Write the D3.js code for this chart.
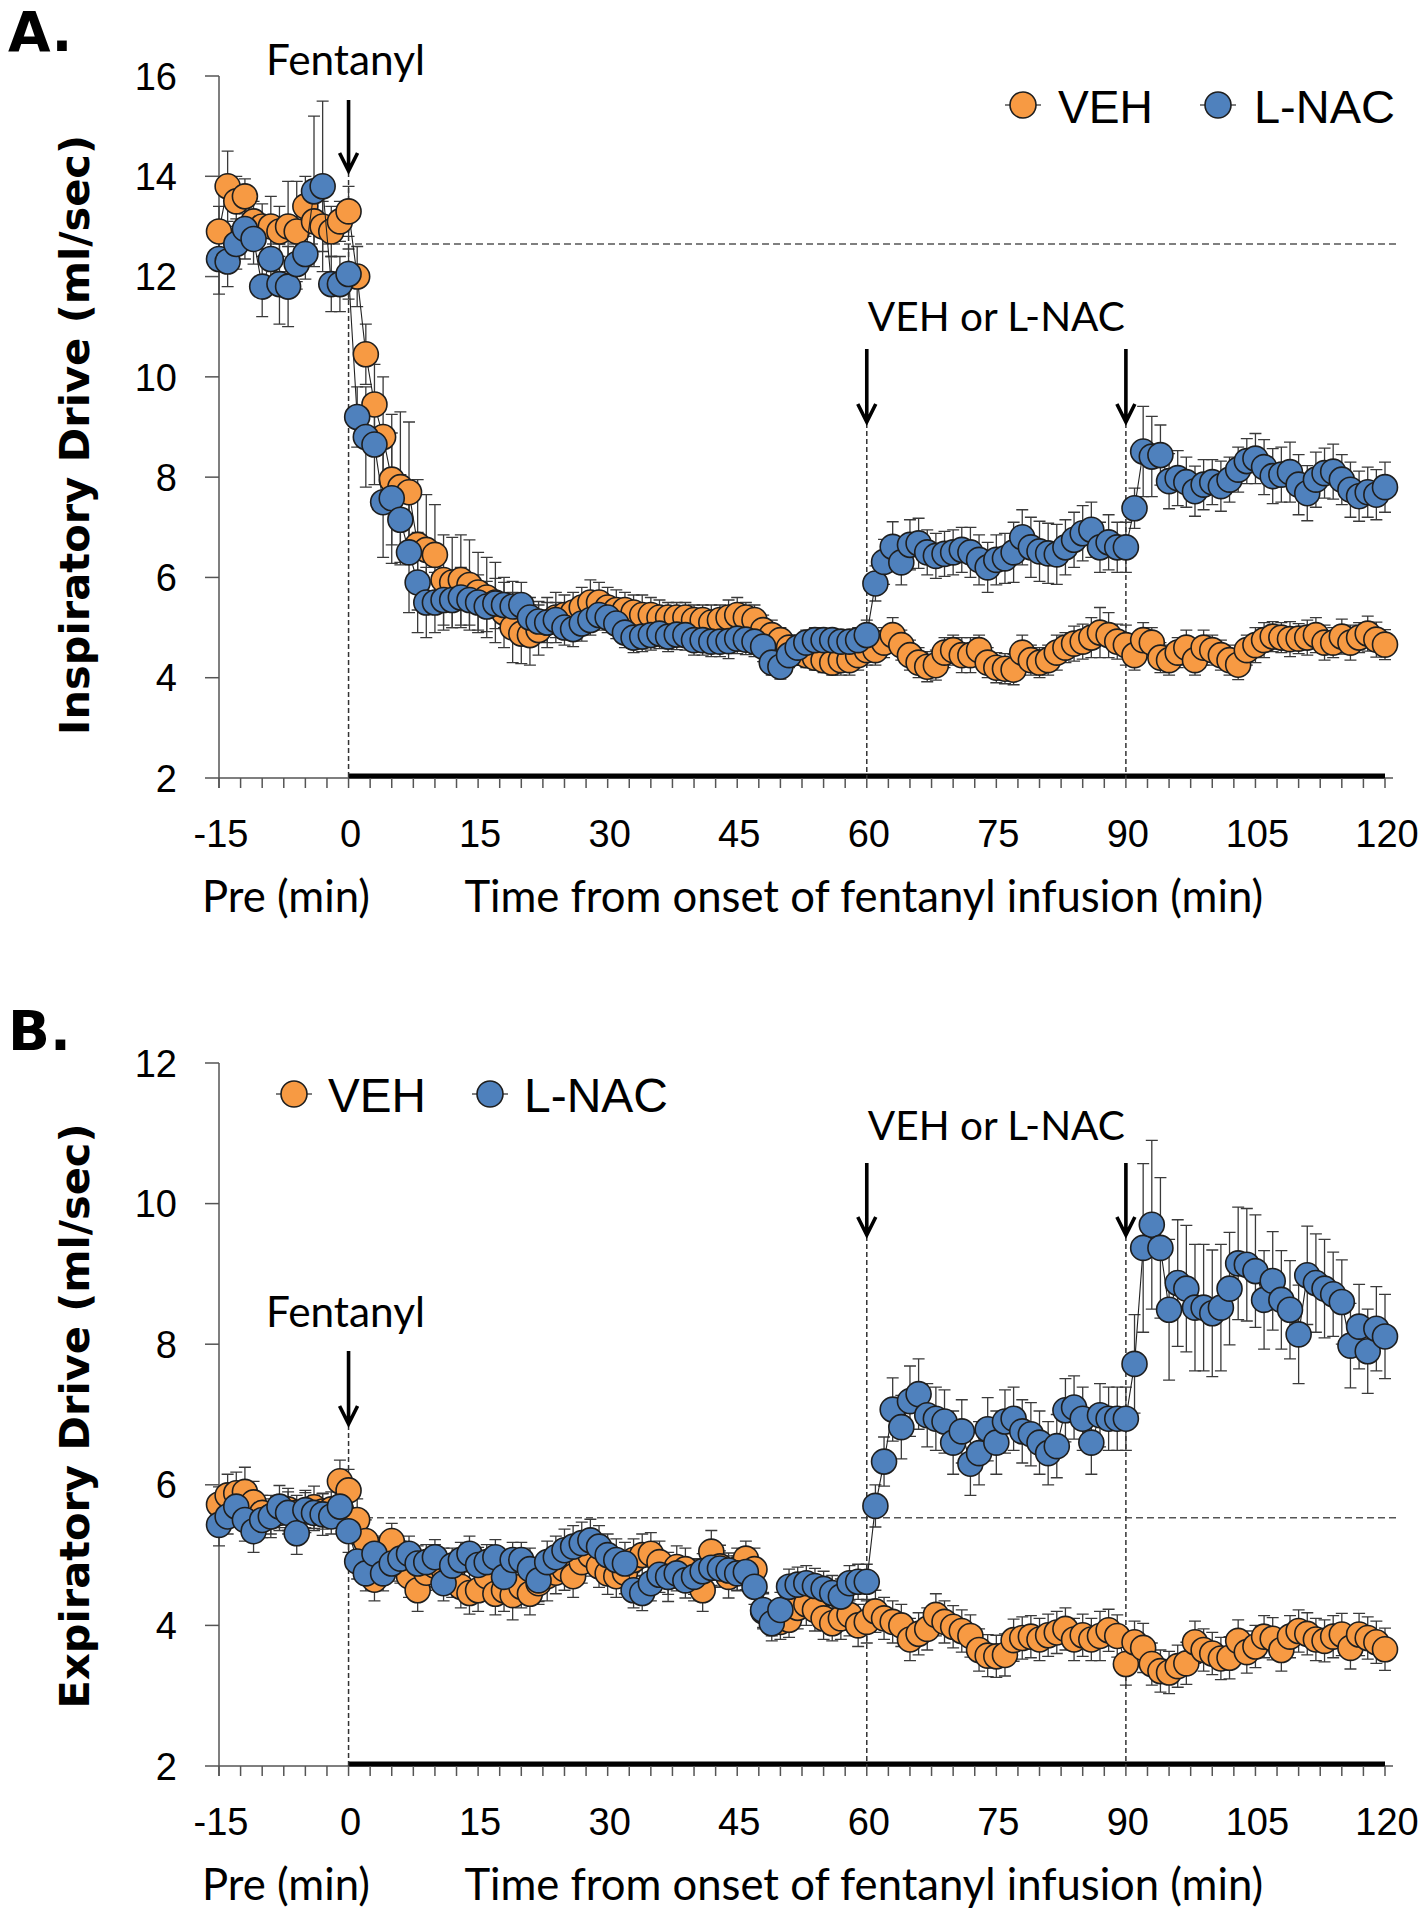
<!DOCTYPE html>
<html><head><meta charset="utf-8">
<script src="https://cdn.jsdelivr.net/npm/d3@7/dist/d3.min.js"></script>
<style>body{margin:0;background:#fff}</style>
</head><body>
<svg id="chart" width="1427" height="1920"></svg>
<script>
// ---------- DATA ----------
const minutes = d3.range(-15, 121); // -15 .. 120, 1-min bins
const xTickLabels = [-15, 0, 15, 30, 45, 60, 75, 90, 105, 120];
const insYTicks = [2, 4, 6, 8, 10, 12, 14, 16];
const expYTicks = [2, 4, 6, 8, 10, 12];
const seriesNames = ["VEH", "L-NAC"];

// Panel A: Inspiratory drive (ml/sec)
const insVeh = [
 12.9,13.8,13.5,13.6,13.1,13.0,13.0,12.9,13.0,12.9,13.4,13.1,13.0,12.9,13.1,13.3,
 12.0,10.45,9.45,8.8,7.95,7.8,7.7,6.65,6.55,6.45,5.95,5.9,5.95,5.85,5.7,5.6,5.5,5.3,5.0,4.88,
 4.85,4.95,5.1,5.2,5.25,5.3,5.4,5.5,5.5,5.4,5.35,5.35,5.3,5.25,5.25,5.2,5.2,5.2,5.2,5.15,
 5.15,5.1,5.15,5.2,5.25,5.2,5.15,4.95,4.85,4.75,4.6,4.5,4.45,4.4,4.35,4.3,4.35,4.35,4.45,4.55,
 4.55,4.7,4.85,4.65,4.45,4.3,4.22,4.25,4.5,4.55,4.45,4.45,4.55,4.3,4.2,4.18,4.16,4.5,4.35,4.3,
 4.35,4.5,4.6,4.68,4.72,4.8,4.9,4.85,4.72,4.65,4.45,4.75,4.7,4.4,4.35,4.5,4.6,4.35,4.6,4.55,
 4.45,4.35,4.26,4.55,4.65,4.75,4.82,4.8,4.77,4.78,4.8,4.85,4.7,4.7,4.82,4.7,4.8,4.88,4.76,4.66
];
const insVehSem = [
 0.5,0.7,0.5,0.35,0.4,0.45,0.6,0.5,0.9,1.0,0.6,0.6,0.5,0.5,0.4,0.5,
 0.6,0.6,0.8,1.2,1.3,1.5,1.4,1.3,1.1,1.0,0.9,0.9,0.9,0.9,0.8,0.8,0.8,0.7,0.7,0.6,
 0.6,0.5,0.5,0.5,0.4,0.4,0.4,0.45,0.4,0.4,0.4,0.35,0.35,0.4,0.35,0.35,0.3,0.3,0.3,0.3,
 0.3,0.35,0.3,0.35,0.35,0.3,0.3,0.3,0.3,0.25,0.25,0.25,0.25,0.25,0.25,0.25,0.3,0.3,0.3,0.3,
 0.3,0.3,0.35,0.3,0.3,0.3,0.3,0.3,0.3,0.3,0.35,0.35,0.3,0.3,0.3,0.3,0.3,0.35,0.3,0.3,
 0.3,0.35,0.3,0.35,0.35,0.4,0.5,0.45,0.35,0.4,0.3,0.35,0.3,0.3,0.3,0.3,0.35,0.3,0.35,0.3,
 0.3,0.3,0.3,0.3,0.35,0.35,0.3,0.3,0.35,0.3,0.35,0.35,0.35,0.3,0.35,0.35,0.3,0.35,0.35,0.3
];
const insLnac = [
 12.35,12.3,12.65,12.95,12.75,11.8,12.35,11.85,11.8,12.25,12.45,13.7,13.8,11.85,11.85,12.05,
 9.2,8.8,8.65,7.5,7.58,7.15,6.5,5.9,5.5,5.5,5.55,5.55,5.6,5.55,5.5,5.42,5.48,5.45,5.42,5.45,
 5.2,5.12,5.1,5.15,5.0,4.97,5.08,5.15,5.25,5.2,5.08,4.9,4.8,4.82,4.85,4.88,4.82,4.86,4.85,4.75,
 4.75,4.72,4.72,4.73,4.78,4.76,4.72,4.62,4.3,4.22,4.45,4.6,4.7,4.75,4.75,4.75,4.72,4.72,4.75,4.85,
 5.88,6.31,6.61,6.3,6.65,6.68,6.5,6.43,6.47,6.5,6.55,6.5,6.35,6.2,6.35,6.38,6.5,6.8,6.6,6.52,
 6.48,6.46,6.6,6.75,6.88,6.95,6.6,6.7,6.6,6.6,7.38,8.51,8.41,8.44,7.92,7.98,7.9,7.72,7.85,7.9,
 7.82,7.95,8.15,8.32,8.37,8.2,8.02,8.05,8.1,7.85,7.68,7.95,8.08,8.11,7.95,7.75,7.62,7.7,7.65,7.8
];
const insLnacSem = [
 0.7,0.5,0.5,0.6,0.5,0.6,0.6,0.8,0.8,0.5,0.5,1.5,1.7,0.55,0.55,0.5,
 0.6,1.0,0.8,1.1,1.3,0.9,1.2,1.0,0.7,0.6,0.6,0.55,0.6,0.5,0.55,0.5,0.5,0.45,0.5,0.45,
 0.4,0.4,0.4,0.35,0.35,0.35,0.35,0.3,0.3,0.3,0.3,0.3,0.3,0.3,0.3,0.3,0.3,0.3,0.3,0.3,
 0.3,0.3,0.3,0.35,0.3,0.3,0.3,0.3,0.25,0.25,0.25,0.25,0.25,0.25,0.2,0.2,0.2,0.2,0.25,0.3,
 0.35,0.45,0.5,0.45,0.5,0.5,0.45,0.45,0.45,0.45,0.45,0.5,0.5,0.5,0.5,0.5,0.6,0.55,0.6,0.6,
 0.6,0.6,0.55,0.55,0.55,0.55,0.5,0.55,0.5,0.5,0.4,0.9,0.8,0.6,0.55,0.55,0.5,0.5,0.5,0.45,
 0.5,0.45,0.45,0.45,0.5,0.55,0.55,0.55,0.6,0.6,0.55,0.55,0.5,0.55,0.5,0.55,0.5,0.5,0.5,0.5
];

// Panel B: Expiratory drive (ml/sec)
const expVeh = [
 5.72,5.85,5.88,5.9,5.75,5.6,5.55,5.6,5.65,5.6,5.62,5.68,5.62,5.65,6.05,5.92,
 5.5,5.2,4.65,4.95,5.2,4.9,4.7,4.5,4.75,4.85,4.8,4.7,4.55,4.46,4.5,4.7,4.45,4.5,4.43,4.55,
 4.45,4.6,4.7,4.75,4.8,4.7,4.9,5.0,4.84,4.74,4.7,4.75,4.93,5.0,5.02,4.9,4.69,4.83,4.8,4.65,
 4.5,5.05,4.84,4.69,4.8,4.95,4.8,4.2,4.1,4.05,4.08,4.25,4.3,4.22,4.1,4.03,4.1,4.15,4.0,4.05,
 4.2,4.1,4.05,4.0,3.8,3.88,3.95,4.15,4.05,3.98,3.92,3.85,3.65,3.57,3.56,3.58,3.79,3.82,3.84,3.8,
 3.86,3.9,3.95,3.8,3.86,3.8,3.85,3.93,3.85,3.45,3.76,3.68,3.45,3.35,3.33,3.42,3.46,3.76,3.65,3.6,
 3.53,3.54,3.78,3.62,3.7,3.84,3.81,3.65,3.84,3.92,3.88,3.8,3.78,3.84,3.87,3.68,3.87,3.82,3.76,3.66
];
const expVehSem = [
 0.25,0.3,0.3,0.35,0.3,0.25,0.3,0.25,0.3,0.25,0.3,0.3,0.25,0.25,0.3,0.3,
 0.3,0.3,0.3,0.3,0.25,0.3,0.3,0.3,0.25,0.3,0.3,0.3,0.3,0.3,0.3,0.3,0.3,0.3,0.35,0.3,
 0.3,0.3,0.35,0.3,0.3,0.3,0.3,0.3,0.3,0.3,0.3,0.3,0.3,0.3,0.3,0.3,0.35,0.3,0.3,0.3,
 0.3,0.3,0.3,0.3,0.3,0.25,0.3,0.25,0.25,0.25,0.25,0.3,0.3,0.3,0.3,0.25,0.3,0.3,0.3,0.3,
 0.3,0.3,0.3,0.3,0.3,0.3,0.3,0.3,0.3,0.3,0.3,0.3,0.3,0.3,0.3,0.3,0.3,0.3,0.3,0.3,
 0.3,0.3,0.3,0.3,0.3,0.3,0.35,0.3,0.3,0.3,0.3,0.35,0.3,0.3,0.3,0.3,0.3,0.3,0.3,0.3,
 0.3,0.3,0.3,0.3,0.3,0.3,0.3,0.3,0.3,0.3,0.3,0.3,0.3,0.3,0.3,0.3,0.3,0.3,0.3,0.3
];
const expLnac = [
 5.43,5.55,5.69,5.5,5.34,5.5,5.55,5.69,5.6,5.31,5.64,5.6,5.58,5.55,5.69,5.34,
 4.91,4.74,5.02,4.74,4.88,4.95,5.02,4.88,4.9,4.97,4.6,4.85,4.93,5.02,4.86,4.9,4.97,4.69,4.93,4.93,
 4.8,4.64,4.9,4.97,5.07,5.12,5.17,5.21,5.12,5.0,4.93,4.88,4.5,4.46,4.6,4.72,4.69,4.74,4.64,4.69,
 4.77,4.82,4.81,4.78,4.74,4.76,4.55,4.22,4.03,4.22,4.55,4.58,4.6,4.56,4.52,4.46,4.41,4.6,4.62,4.62,
 5.7,6.33,7.07,6.82,7.19,7.29,6.99,6.94,6.9,6.6,6.76,6.3,6.45,6.79,6.6,6.9,6.94,6.76,6.72,6.6,
 6.45,6.55,7.06,7.1,6.94,6.6,6.99,6.94,6.94,6.94,7.72,9.37,9.7,9.37,8.49,8.87,8.79,8.52,8.52,8.44,
 8.52,8.79,9.15,9.13,9.04,8.63,8.9,8.63,8.49,8.14,8.98,8.87,8.79,8.71,8.6,7.98,8.25,7.9,8.22,8.11
];
const expLnacSem = [
 0.3,0.25,0.25,0.3,0.3,0.25,0.25,0.3,0.3,0.3,0.25,0.25,0.3,0.25,0.25,0.3,
 0.25,0.25,0.25,0.25,0.25,0.25,0.25,0.25,0.25,0.25,0.25,0.25,0.25,0.25,0.25,0.25,0.25,0.25,0.25,0.25,
 0.3,0.3,0.3,0.3,0.3,0.3,0.3,0.3,0.3,0.3,0.3,0.3,0.25,0.25,0.25,0.25,0.25,0.25,0.25,0.25,
 0.25,0.25,0.25,0.25,0.25,0.25,0.25,0.25,0.25,0.25,0.25,0.25,0.25,0.25,0.25,0.25,0.25,0.25,0.25,0.25,
 0.3,0.35,0.45,0.45,0.5,0.5,0.45,0.45,0.45,0.45,0.45,0.45,0.45,0.45,0.45,0.45,0.45,0.45,0.45,0.45,
 0.45,0.45,0.45,0.45,0.45,0.45,0.45,0.45,0.45,0.45,0.7,1.2,1.2,1.0,1.0,0.9,0.9,0.9,0.9,0.9,
 0.9,0.8,0.8,0.8,0.8,0.7,0.7,0.7,0.7,0.7,0.7,0.7,0.7,0.6,0.6,0.6,0.6,0.6,0.6,0.6
];

// ---------- DRAWING ----------
const svg = d3.select("#chart");
svg.append("rect").attr("width", 1427).attr("height", 1920).attr("fill", "#fff");

const COL = { "VEH": "#F79A43", "L-NAC": "#4F81BD" };
const x = d3.scaleLinear().domain([-15, 120]).range([219, 1385]);

function fitText(sel, w) {
  const n = sel.node();
  const cur = n.getComputedTextLength();
  const fs = parseFloat(sel.attr("font-size"));
  if (cur > 0) sel.attr("font-size", fs * w / cur);
}

const panels = [
  { label: "A.", labelY: 51, top: 76, bottom: 778, dom: [2, 16], ticks: insYTicks,
    title: "Inspiratory Drive (ml/sec)", titleLen: 600, titleCY: 435,
    veh: insVeh, vehSem: insVehSem, lnac: insLnac, lnacSem: insLnacSem,
    baseline: 12.65, fentY: 75, fentArrow: [100, 172], drugY: 331, drugArrow: [349, 423],
    legend: { cx: [1023, 1218], tx: [1058, 1254], cy: 105, w: [95, 141] } },
  { label: "B.", labelY: 1050, top: 1063, bottom: 1766, dom: [2, 12], ticks: expYTicks,
    title: "Expiratory Drive (ml/sec)", titleLen: 585, titleCY: 1416,
    veh: expVeh, vehSem: expVehSem, lnac: expLnac, lnacSem: expLnacSem,
    baseline: 5.53, fentY: 1327, fentArrow: [1351, 1425], drugY: 1140, drugArrow: [1163, 1236],
    legend: { cx: [294, 490], tx: [328, 524], cy: 1094, w: [98, 144] } }
];

panels.forEach(p => {
  const g = svg.append("g");
  const y = d3.scaleLinear().domain(p.dom).range([p.bottom, p.top]);
  const axisY = p.bottom;

  // panel label
  g.append("text").attr("x", 8).attr("y", p.labelY).text(p.label)
    .attr("font-family", "DejaVu Sans").attr("font-weight", "bold").attr("font-size", 55).attr("fill", "#000");

  // y axis
  g.append("line").attr("x1", x(-15)).attr("x2", x(-15)).attr("y1", y(p.dom[1])).attr("y2", axisY + 10)
    .attr("stroke", "#555").attr("stroke-width", 1.5);
  p.ticks.forEach(t => {
    g.append("line").attr("x1", x(-15) - 14).attr("x2", x(-15)).attr("y1", y(t)).attr("y2", y(t))
      .attr("stroke", "#555").attr("stroke-width", 1.5);
    g.append("text").attr("x", 177).attr("y", y(t)).attr("dy", "0.36em").attr("text-anchor", "end")
      .attr("font-family", "Liberation Sans, Arial").attr("font-size", 38).attr("fill", "#000").text(t);
  });

  // x axis
  g.append("line").attr("x1", x(-15)).attr("x2", 1393).attr("y1", axisY).attr("y2", axisY)
    .attr("stroke", "#555").attr("stroke-width", 1.5);
  g.append("line").attr("x1", x(0)).attr("x2", x(120)).attr("y1", axisY - 2).attr("y2", axisY - 2)
    .attr("stroke", "#000").attr("stroke-width", 5);
  d3.range(-15, 120.01, 2.5).forEach(t => {
    g.append("line").attr("x1", x(t)).attr("x2", x(t)).attr("y1", axisY).attr("y2", axisY + 10)
      .attr("stroke", "#555").attr("stroke-width", 1.5);
  });
  xTickLabels.forEach(t => {
    g.append("text").attr("x", x(t) + 2).attr("y", axisY + 69).attr("text-anchor", "middle")
      .attr("font-family", "Liberation Sans, Arial").attr("font-size", 38).attr("fill", "#000").text(t);
  });
  const pre = g.append("text").attr("x", 286).attr("y", axisY + 134).attr("text-anchor", "middle")
    .attr("font-family", "Lato").attr("font-size", 38).attr("fill", "#000").text("Pre (min)");
  fitText(pre, 168);
  const tl = g.append("text").attr("x", x(60) - 3).attr("y", axisY + 134).attr("text-anchor", "middle")
    .attr("font-family", "Lato").attr("font-size", 38).attr("fill", "#000")
    .text("Time from onset of fentanyl infusion (min)");
  fitText(tl, 799);

  // y title
  const yt = g.append("text").attr("transform", `translate(89,${p.titleCY}) rotate(-90)`)
    .attr("text-anchor", "middle").attr("font-family", "DejaVu Sans").attr("font-weight", "bold")
    .attr("font-size", 34).attr("fill", "#000").text(p.title);
  fitText(yt, p.titleLen);

  // reference dashed lines
  g.append("line").attr("x1", x(-15) + 4).attr("x2", 1397).attr("y1", y(p.baseline)).attr("y2", y(p.baseline))
    .attr("stroke", "#555").attr("stroke-width", 1.5).attr("stroke-dasharray", "7,4");
  g.append("line").attr("x1", x(0)).attr("x2", x(0)).attr("y1", p.fentArrow[1]).attr("y2", axisY)
    .attr("stroke", "#333").attr("stroke-width", 1.5).attr("stroke-dasharray", "5,3");
  [60, 90].forEach(t => {
    g.append("line").attr("x1", x(t)).attr("x2", x(t)).attr("y1", p.drugArrow[1]).attr("y2", axisY)
      .attr("stroke", "#333").attr("stroke-width", 1.5).attr("stroke-dasharray", "5,3");
  });

  // arrows
  function arrow(cx, y1, y2) {
    g.append("path").attr("d", `M${cx},${y1}L${cx},${y2 - 1}M${cx - 9},${y2 - 19}L${cx},${y2 - 1}L${cx + 9},${y2 - 19}`)
      .attr("fill", "none").attr("stroke", "#000").attr("stroke-width", 3.6).attr("stroke-linejoin", "miter");
  }
  arrow(x(0), p.fentArrow[0], p.fentArrow[1]);
  arrow(x(60), p.drugArrow[0], p.drugArrow[1]);
  arrow(x(90), p.drugArrow[0], p.drugArrow[1]);
  const fl = g.append("text").attr("x", x(0) - 3).attr("y", p.fentY).attr("text-anchor", "middle")
    .attr("font-family", "Lato").attr("font-size", 38).attr("fill", "#000").text("Fentanyl");
  fitText(fl, 159);
  const dl = g.append("text").attr("x", x(75)).attr("y", p.drugY).attr("text-anchor", "middle")
    .attr("font-family", "Lato").attr("font-size", 38).attr("fill", "#000").text("VEH or L-NAC");
  fitText(dl, 257);

  // series
  const series = [
    { name: "VEH", v: p.veh, s: p.vehSem },
    { name: "L-NAC", v: p.lnac, s: p.lnacSem }
  ];
  const eg = g.append("g");
  series.forEach(se => {
    const d = minutes.map((t, i) => ({ t, v: se.v[i], s: se.s[i] }));
    d.forEach(pt => {
      const xx = x(pt.t), y0 = y(pt.v - pt.s), y1 = y(pt.v + pt.s);
      eg.append("path").attr("d", `M${xx},${y0}L${xx},${y1}M${xx - 6},${y0}L${xx + 6},${y0}M${xx - 6},${y1}L${xx + 6},${y1}`)
        .attr("fill", "none").attr("stroke", "#3a3a3a").attr("stroke-width", 1.3);
    });
  });
  series.forEach(se => {
    const d = minutes.map((t, i) => ({ t, v: se.v[i] }));
    g.append("path").datum(d)
      .attr("d", d3.line().x(q => x(q.t)).y(q => y(q.v)))
      .attr("fill", "none").attr("stroke", "#222").attr("stroke-width", 1.1);
    g.append("g").selectAll("circle").data(d).join("circle")
      .attr("cx", q => x(q.t)).attr("cy", q => y(q.v)).attr("r", 12.5)
      .attr("fill", COL[se.name]).attr("stroke", "#1e1e1e").attr("stroke-width", 1.6);
  });

  // legend
  seriesNames.forEach((nm, i) => {
    const cx = p.legend.cx[i], cy = p.legend.cy;
    g.append("line").attr("x1", cx - 18).attr("x2", cx + 18).attr("y1", cy).attr("y2", cy)
      .attr("stroke", "#555").attr("stroke-width", 1.5);
    g.append("circle").attr("cx", cx).attr("cy", cy).attr("r", 13)
      .attr("fill", COL[nm]).attr("stroke", "#1e1e1e").attr("stroke-width", 1.6);
    const lt = g.append("text").attr("x", p.legend.tx[i]).attr("y", cy + 18)
      .attr("font-family", "Liberation Sans, Arial").attr("font-size", 46).attr("fill", "#000").text(nm);
    fitText(lt, p.legend.w[i]);
  });
});
</script>
</body></html>
